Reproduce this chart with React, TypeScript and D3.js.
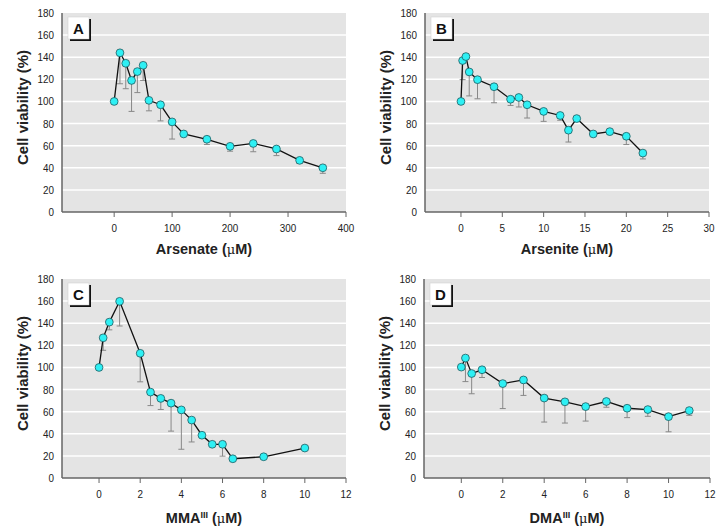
import React from "react";
import * as d3 from "d3";

// Panel A: Arsenate
const arsenateX = [0, 10, 20, 30, 40, 50, 60, 80, 100, 120, 160, 200, 240, 280, 320, 360];
const arsenateY = [100, 144, 134.5, 119, 127, 132.7, 101, 97, 81.5, 70.6, 65.8, 59.4, 62, 57, 46.7, 40];
const arsenateLow = [100, 116, 111.5, 91, 108, 119, 91.5, 82.4, 66, 69, 61, 55, 54.5, 51, 44, 35];

// Panel B: Arsenite
const arseniteX = [0, 0.2, 0.6, 1, 2, 4, 6, 7, 8, 10, 12, 13, 14, 16, 18, 20, 22];
const arseniteY = [100, 137, 140.6, 126.7, 119.7, 113.3, 102, 103.6, 97, 91, 87.3, 74, 84.5, 70.6, 72.7, 68.5, 53.3];
const arseniteLow = [100, 119.7, 140.6, 105, 102.4, 98.8, 96.4, 95, 85, 82, 83, 63.3, 84.5, 70.6, 72.7, 61, 48];

// Panel C: MMA(III)
const mmaX = [0, 0.2, 0.5, 1, 2, 2.5, 3, 3.5, 4, 4.5, 5, 5.5, 6, 6.5, 8, 10];
const mmaY = [100, 126.8, 141, 159.8, 112.8, 77.7, 72, 67.7, 61.6, 52.4, 38.7, 30.5, 30.5, 17.4, 19.2, 27.1];
const mmaLow = [100, 115.5, 134, 137.5, 87, 65.5, 62, 42.4, 26, 32.6, 38.7, 30.5, 19.8, 17.4, 17.5, 27.1];

// Panel D: DMA(III)
const dmaX = [0, 0.2, 0.5, 1, 2, 3, 4, 5, 6, 7, 8, 9, 10, 11];
const dmaY = [100.3, 108.5, 94.5, 97.9, 85.4, 88.7, 72.3, 68.9, 64.6, 69.2, 63.1, 61.9, 55.5, 61];
const dmaLow = [100.3, 87.2, 76.2, 90.9, 62.8, 74.7, 50.6, 49.7, 51.5, 64, 54.6, 55.8, 41.8, 56.7];

const yTicks = [0, 20, 40, 60, 80, 100, 120, 140, 160, 180];
const ticksA = [0, 100, 200, 300, 400];
const ticksB = [0, 5, 10, 15, 20, 25, 30];
const ticksCD = [0, 2, 4, 6, 8, 10, 12];

const FONT = "'Liberation Sans', Arial, sans-serif";

type PanelProps = {
  letter: string;
  xs: number[];
  ys: number[];
  lows: number[];
  xDomain: [number, number];
  xTicks: number[];
  x0: number;
  x1: number;
  y0: number;
  y1: number;
  titleDy: number;
  title: React.ReactNode;
};

function Panel({ letter, xs, ys, lows, xDomain, xTicks, x0, x1, y0, y1, titleDy, title }: PanelProps) {
  const x = d3.scaleLinear().domain(xDomain).range([x0, x1]);
  const y = d3.scaleLinear().domain([0, 180]).range([y1, y0]);
  const pts = xs.map((v, i) => ({ x: v, y: ys[i], lo: lows[i] }));
  const line = d3
    .line<{ x: number; y: number }>()
    .x((d) => x(d.x))
    .y((d) => y(d.y));
  const cx = (x0 + x1) / 2;
  const cy = (y0 + y1) / 2;
  return (
    <g>
      <rect x={x0} y={y0} width={x1 - x0} height={y1 - y0} fill="#e4e4e4" />
      {yTicks
        .filter((t) => t > 0 && t < 180)
        .map((t) => (
          <line key={t} x1={x0} x2={x1} y1={y(t)} y2={y(t)} stroke="#ffffff" strokeWidth={1.5} />
        ))}
      {/* axes */}
      <line x1={x0} x2={x0} y1={y0} y2={y1} stroke="#666" strokeWidth={1.5} />
      <line x1={x0} x2={x1} y1={y1} y2={y1} stroke="#666" strokeWidth={1.5} />
      {xTicks.map((t) => (
        <g key={t}>
          <line x1={x(t)} x2={x(t)} y1={y1} y2={y1 + 5} stroke="#666" strokeWidth={1} />
          <text
            transform={`translate(${x(t)},${y1 + 20}) scale(0.86,1)`}
            textAnchor="middle"
            fontSize={11.5}
            fontFamily={FONT}
            fill="#222"
          >
            {t}
          </text>
        </g>
      ))}
      {yTicks.map((t) => (
        <text
          key={t}
          transform={`translate(${x0 - 8},${y(t) + 4}) scale(0.86,1)`}
          textAnchor="end"
          fontSize={11.5}
          fontFamily={FONT}
          fill="#222"
        >
          {t}
        </text>
      ))}
      <text
        transform={`translate(${x0 - 34},${cy - 5}) rotate(-90)`}
        textAnchor="middle"
        fontSize={15}
        fontWeight="bold"
        fontFamily={FONT}
        fill="#222"
      >
        Cell viability (%)
      </text>
      <text x={cx} y={y1 + titleDy} textAnchor="middle" fontSize={14.5} fontWeight="bold" fontFamily={FONT} fill="#222">
        {title}
      </text>
      {/* error bars */}
      {pts
        .filter((p) => p.y - p.lo > 0.5)
        .map((p, i) => (
          <g key={i} stroke="#888" strokeWidth={1}>
            <line x1={x(p.x)} x2={x(p.x)} y1={y(p.y)} y2={y(p.lo)} />
            <line x1={x(p.x) - 3} x2={x(p.x) + 3} y1={y(p.lo)} y2={y(p.lo)} />
          </g>
        ))}
      <path d={line(pts) || ""} fill="none" stroke="#111" strokeWidth={1.3} />
      {pts.map((p, i) => (
        <circle key={i} cx={x(p.x)} cy={y(p.y)} r={3.9} fill="#2ef0f4" stroke="#1f5a60" strokeWidth={0.8} />
      ))}
      {/* panel letter */}
      <rect x={x0 + 8} y={y0 + 6} width={21} height={22} fill="#111" />
      <rect x={x0 + 6} y={y0 + 4} width={21} height={22} fill="#fff" stroke="#ccc" strokeWidth={0.5} />
      <text x={x0 + 16.5} y={y0 + 20.5} textAnchor="middle" fontSize={15} fontWeight="bold" fontFamily={FONT} fill="#111">
        {letter}
      </text>
    </g>
  );
}

const mu = (
  <tspan fontWeight="normal" fontFamily="'DejaVu Serif', serif" fontSize={13}>
    μ
  </tspan>
);

export default function App() {
  return (
    <div style={{ position: "fixed", left: 0, top: 0 }}>
      <svg width={723} height={532} style={{ display: "block", background: "#fff" }}>
        <Panel
          letter="A"
          xs={arsenateX}
          ys={arsenateY}
          lows={arsenateLow}
          xDomain={[-90, 400]}
          xTicks={ticksA}
          x0={62}
          x1={346}
          y0={13}
          y1={212}
          titleDy={41.5}
          title={<>Arsenate ({mu}M)</>}
        />
        <Panel
          letter="B"
          xs={arseniteX}
          ys={arseniteY}
          lows={arseniteLow}
          xDomain={[-4.35, 30]}
          xTicks={ticksB}
          x0={425}
          x1={709}
          y0={13}
          y1={212}
          titleDy={41.5}
          title={<>Arsenite ({mu}M)</>}
        />
        <Panel
          letter="C"
          xs={mmaX}
          ys={mmaY}
          lows={mmaLow}
          xDomain={[-1.8, 12]}
          xTicks={ticksCD}
          x0={62}
          x1={346}
          y0={279}
          y1={478}
          titleDy={44.5}
          title={
            <>
              MMA<tspan fontSize={9} dy={-5}>III</tspan>
              <tspan dy={5}> (</tspan>
              {mu}M)
            </>
          }
        />
        <Panel
          letter="D"
          xs={dmaX}
          ys={dmaY}
          lows={dmaLow}
          xDomain={[-1.8, 12]}
          xTicks={ticksCD}
          x0={424}
          x1={710}
          y0={279}
          y1={478}
          titleDy={44.5}
          title={
            <>
              DMA<tspan fontSize={9} dy={-5}>III</tspan>
              <tspan dy={5}> (</tspan>
              {mu}M)
            </>
          }
        />
      </svg>
    </div>
  );
}
